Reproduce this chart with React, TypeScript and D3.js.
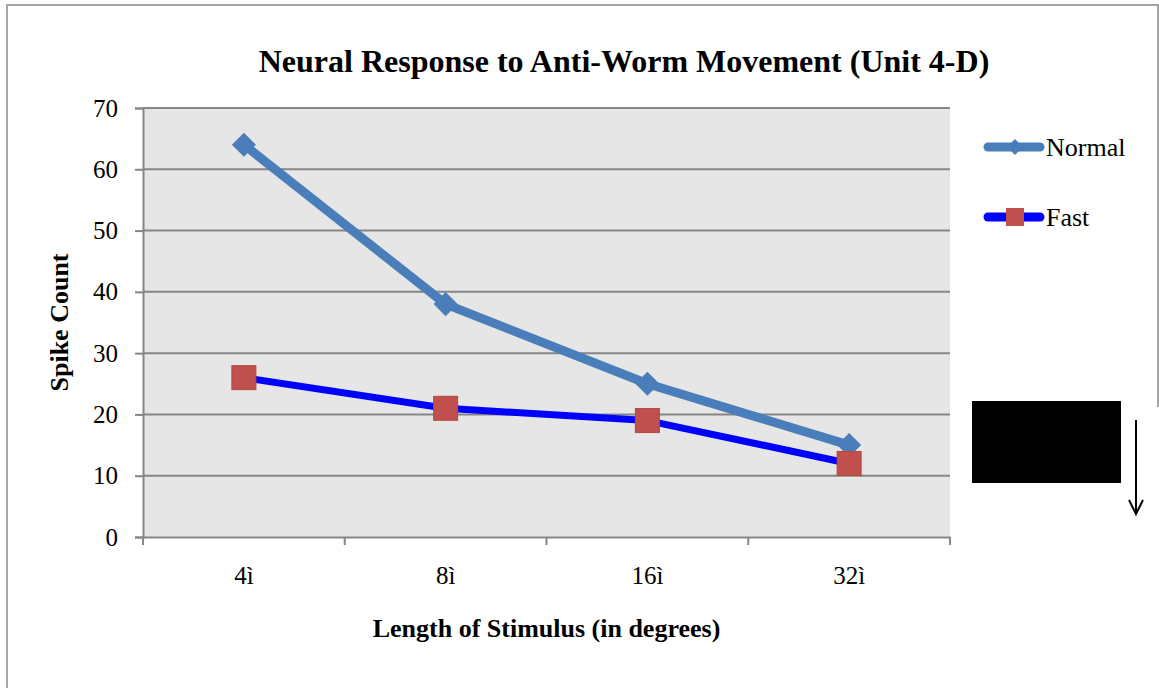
import React, { useRef, useEffect } from "react";
import * as d3 from "d3";

const categories = ["4ì", "8ì", "16ì", "32ì"];
const normalValues = [64, 38, 25, 15];
const fastValues = [26, 21, 19, 12];
const yTicks = [0, 10, 20, 30, 40, 50, 60, 70];

const FONT = "'Liberation Serif', 'Times New Roman', serif";

const App = () => {
  const chartRef = useRef(null);

  useEffect(() => {
    const width = 1159;
    const height = 688;
    const plot = { left: 143, right: 950, top: 108, bottom: 537 };

    const svg = d3
      .select(chartRef.current)
      .attr("width", width)
      .attr("height", height);

    svg.selectAll("*").remove();

    svg.append("rect").attr("width", width).attr("height", height).attr("fill", "#fff");

    // outer chart border
    svg
      .append("rect")
      .attr("x", 7)
      .attr("y", 5)
      .attr("width", 1151)
      .attr("height", 700)
      .attr("fill", "none")
      .attr("stroke", "#a6a6a6")
      .attr("stroke-width", 2);

    const x = d3
      .scaleBand()
      .domain(categories)
      .range([plot.left, plot.right]);

    const y = d3.scaleLinear().domain([0, 70]).range([plot.bottom, plot.top]);

    svg
      .append("rect")
      .attr("x", plot.left)
      .attr("y", plot.top)
      .attr("width", plot.right - plot.left)
      .attr("height", plot.bottom - plot.top)
      .attr("fill", "#e6e6e6");

    // gridlines
    svg
      .append("g")
      .selectAll("line")
      .data(yTicks.filter((d) => d > 0))
      .enter()
      .append("line")
      .attr("x1", plot.left)
      .attr("x2", plot.right)
      .attr("y1", (d) => y(d))
      .attr("y2", (d) => y(d))
      .attr("stroke", "#868686")
      .attr("stroke-width", 2);

    // y axis
    const yAxis = svg
      .append("g")
      .attr("transform", `translate(${plot.left},0)`)
      .call(d3.axisLeft(y).tickValues(yTicks).tickSize(8).tickPadding(17));
    yAxis.select(".domain").attr("stroke", "#868686").attr("stroke-width", 2);
    yAxis.selectAll(".tick line").attr("stroke", "#868686").attr("stroke-width", 2);
    yAxis
      .selectAll("text")
      .attr("font-family", FONT)
      .attr("font-size", 25)
      .attr("fill", "#000");

    // x axis
    const xAxis = svg
      .append("g")
      .attr("transform", `translate(0,${plot.bottom})`)
      .call(d3.axisBottom(x).tickSize(0).tickPadding(29));
    xAxis.select(".domain").attr("stroke", "#868686").attr("stroke-width", 2);
    xAxis
      .selectAll("text")
      .attr("font-family", FONT)
      .attr("font-size", 25)
      .attr("fill", "#000");

    // x tick marks at band boundaries
    const bounds = categories.map((c) => x(c)).concat([x(categories[categories.length - 1]) + x.bandwidth()]);
    svg
      .append("g")
      .selectAll("line")
      .data(bounds)
      .enter()
      .append("line")
      .attr("x1", (d) => d)
      .attr("x2", (d) => d)
      .attr("y1", plot.bottom)
      .attr("y2", plot.bottom + 8)
      .attr("stroke", "#868686")
      .attr("stroke-width", 2);

    const cx = (d, i) => x(categories[i]) + x.bandwidth() / 2;

    const line = d3
      .line()
      .x((d, i) => cx(d, i))
      .y((d) => y(d));

    // Normal series
    svg
      .append("path")
      .datum(normalValues)
      .attr("d", line)
      .attr("fill", "none")
      .attr("stroke", "#4a7ebb")
      .attr("stroke-width", 9)
      .attr("stroke-linejoin", "round");

    svg
      .append("g")
      .selectAll("path")
      .data(normalValues)
      .enter()
      .append("path")
      .attr("d", d3.symbol(d3.symbolSquare, 290))
      .attr("transform", (d, i) => `translate(${cx(d, i)},${y(d)}) rotate(45)`)
      .attr("fill", "#4a7ebb");

    // Fast series
    svg
      .append("path")
      .datum(fastValues)
      .attr("d", line)
      .attr("fill", "none")
      .attr("stroke", "#0000ff")
      .attr("stroke-width", 7)
      .attr("stroke-linejoin", "round");

    svg
      .append("g")
      .selectAll("rect")
      .data(fastValues)
      .enter()
      .append("rect")
      .attr("x", (d, i) => cx(d, i) - 12)
      .attr("y", (d) => y(d) - 12)
      .attr("width", 24)
      .attr("height", 24)
      .attr("fill", "#c0504d")
      .attr("stroke", "#b8473f")
      .attr("stroke-width", 1);

    // title
    svg
      .append("text")
      .attr("x", 624)
      .attr("y", 72)
      .attr("text-anchor", "middle")
      .attr("font-family", FONT)
      .attr("font-weight", "bold")
      .attr("font-size", 32)
      .text("Neural Response to Anti-Worm Movement (Unit 4-D)");

    // axis titles
    svg
      .append("text")
      .attr("transform", `translate(68,${(plot.top + plot.bottom) / 2}) rotate(-90)`)
      .attr("text-anchor", "middle")
      .attr("font-family", FONT)
      .attr("font-weight", "bold")
      .attr("font-size", 26)
      .text("Spike Count");

    svg
      .append("text")
      .attr("x", (plot.left + plot.right) / 2)
      .attr("y", 637)
      .attr("text-anchor", "middle")
      .attr("font-family", FONT)
      .attr("font-weight", "bold")
      .attr("font-size", 26)
      .text("Length of Stimulus (in degrees)");

    // legend
    const legend = svg.append("g");
    const ly = [147, 217];
    legend
      .append("line")
      .attr("x1", 988)
      .attr("x2", 1040)
      .attr("y1", ly[0])
      .attr("y2", ly[0])
      .attr("stroke", "#4a7ebb")
      .attr("stroke-width", 9)
      .attr("stroke-linecap", "round");
    legend
      .append("path")
      .attr("d", d3.symbol(d3.symbolSquare, 130))
      .attr("transform", `translate(1015,${ly[0]}) rotate(45)`)
      .attr("fill", "#4a7ebb");
    legend
      .append("text")
      .attr("x", 1046)
      .attr("y", ly[0] + 9)
      .attr("font-family", FONT)
      .attr("font-size", 26)
      .text("Normal");

    legend
      .append("line")
      .attr("x1", 988)
      .attr("x2", 1040)
      .attr("y1", ly[1])
      .attr("y2", ly[1])
      .attr("stroke", "#0000ff")
      .attr("stroke-width", 9)
      .attr("stroke-linecap", "round");
    legend
      .append("rect")
      .attr("x", 1006)
      .attr("y", ly[1] - 9)
      .attr("width", 18)
      .attr("height", 18)
      .attr("fill", "#c0504d");
    legend
      .append("text")
      .attr("x", 1046)
      .attr("y", ly[1] + 9)
      .attr("font-family", FONT)
      .attr("font-size", 26)
      .text("Fast");

    // overlay: white patch, black box and arrow
    svg.append("rect").attr("x", 1125).attr("y", 407).attr("width", 40).attr("height", 290).attr("fill", "#fff");
    svg
      .append("rect")
      .attr("x", 972)
      .attr("y", 401)
      .attr("width", 149)
      .attr("height", 82)
      .attr("fill", "#000");
    svg
      .append("path")
      .attr("d", "M1136,420 L1136,514 M1129,500 L1136,514 L1143,500")
      .attr("fill", "none")
      .attr("stroke", "#000")
      .attr("stroke-width", 2);
  }, []);

  return (
    <div style={{ position: "absolute", left: 0, top: 0 }}>
      <svg ref={chartRef} style={{ display: "block" }}></svg>
    </div>
  );
};

export default App;
